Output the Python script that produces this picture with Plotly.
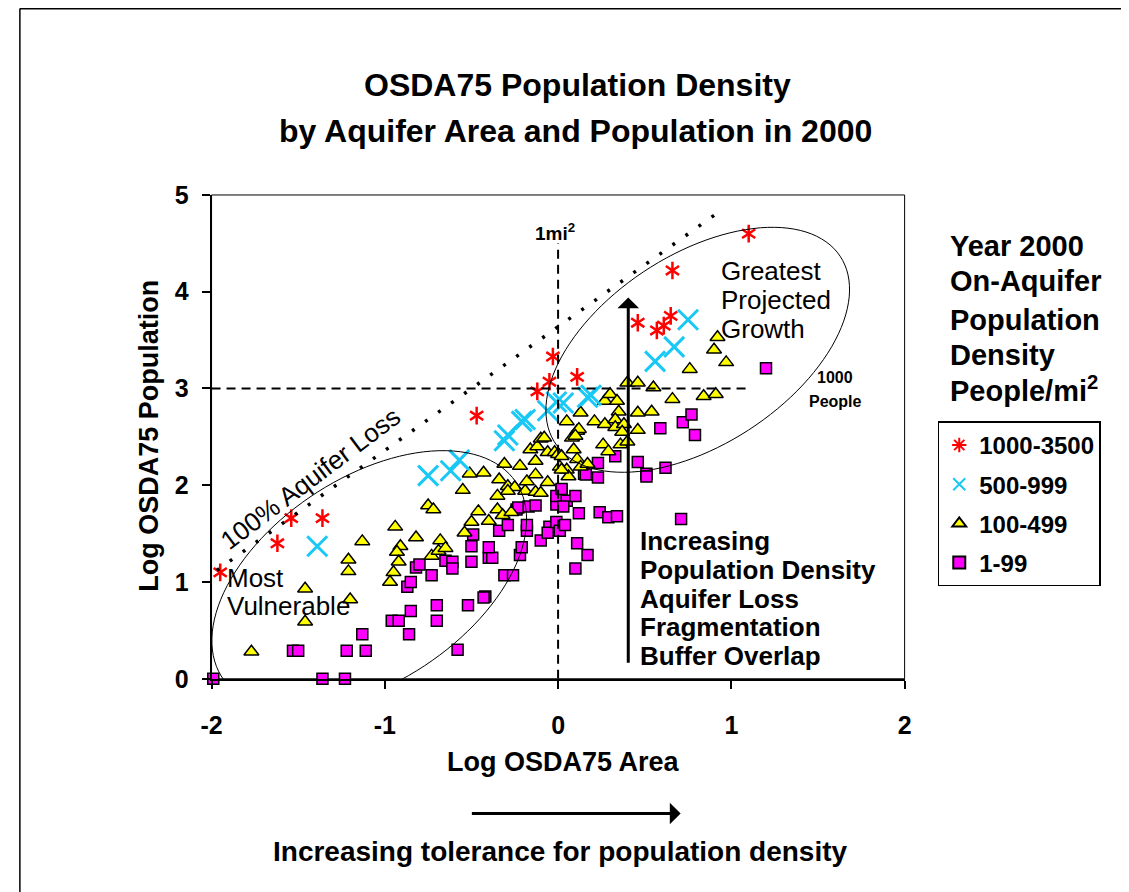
import numpy as np
import plotly.graph_objects as go

W, H = 1129, 892
FONT = 'Liberation Sans, Arial, sans-serif'

# plot area as measured on the reference picture (left, right, top, bottom)
PX0, PX1, PY0, PY1 = 214, 904, 195, 680

# the page is shown slightly shrunk and shifted; map picture pixels -> figure pixels
SX, OX = 0.9797, 22.3
SY, OY = 0.971, 21.6

# ---- data (log area, log population) ----
red_x = [-1.95, -1.62, -1.54, -1.36, -0.47, -0.12, -0.05, -0.03, 0.11, 0.46, 0.57, 0.61, 0.65, 0.66, 1.10]
red_y = [1.10, 1.40, 1.66, 1.66, 2.72, 2.97, 3.07, 3.33, 3.12, 3.68, 3.60, 3.65, 3.75, 4.22, 4.60]

cyan_x = [-1.39, -0.75, -0.62, -0.57, -0.31, -0.29, -0.21, -0.19, -0.06, -0.01, 0.03, 0.17, 0.19, 0.56, 0.67, 0.75]
cyan_y = [1.37, 2.10, 2.15, 2.26, 2.46, 2.52, 2.66, 2.68, 2.77, 2.86, 2.85, 2.91, 2.93, 3.28, 3.43, 3.71]

yellow_x = [-1.77, -1.46, -1.46, -1.21, -1.21, -1.20, -1.13, -0.94, -0.91, -0.93, -0.92, -0.95, -0.97, -0.82,
            -0.75, -0.72, -0.73, -0.68, -0.69, -0.65, -0.55, -0.51, -0.43, -0.34, -0.31, -0.22, -0.35, -0.29,
            -0.25, -0.46, -0.40, -0.50, -0.54, -0.35, -0.32, -0.27, -0.19, -0.18, -0.13, -0.13, -0.10, -0.06,
            -0.16, -0.13, -0.12, -0.10, -0.08, -0.06, -0.02, 0.00, 0.01, 0.05, 0.06, 0.05, 0.08, 0.11, 0.09,
            0.11, 0.13, 0.13, 0.17, 0.21, 0.27, 0.27, 0.26, 0.30, 0.34, 0.35, 0.33, 0.33, 0.38, 0.37, 0.36,
            0.40, 0.29, 0.40, 0.46, 0.55, 0.66, 0.76, 0.46, 0.54, 0.46, 0.12, 0.10, 0.02, 0.02, 0.92, 0.90,
            0.97, 0.84, 0.91, -0.29]
yellow_y = [0.28, 0.93, 0.59, 1.23, 1.11, 0.82, 1.42, 1.57, 1.37, 1.31, 1.21, 1.10, 1.00, 1.46,
            1.79, 1.75, 1.27, 1.43, 1.32, 1.35, 1.95, 2.12, 2.13, 2.06, 2.22, 2.20, 1.89, 1.99,
            1.98, 1.73, 1.63, 1.62, 1.51, 1.75, 1.69, 1.72, 1.94, 2.04, 2.11, 1.93, 1.92, 2.03,
            2.37, 2.25, 2.40, 2.48, 2.49, 2.34, 2.34, 2.32, 2.19, 2.16, 2.09, 2.66, 2.49, 2.56, 2.37,
            2.27, 2.75, 2.19, 2.22, 2.66, 2.87, 2.63, 2.42, 2.94, 2.87, 2.76, 2.68, 2.60, 2.63, 2.55, 2.42,
            2.45, 2.35, 3.06, 3.06, 3.01, 2.89, 3.20, 2.75, 2.76, 2.57, 2.58, 2.51, 2.30, 2.16, 3.53, 3.40,
            3.27, 2.92, 2.94, 1.94]

magenta_x = [-1.99, -1.53, -1.50, -1.36, -1.23, -1.22, -1.11, -1.13, -0.96, -0.92, -0.86, -0.85, -0.70, -0.70,
             -0.87, -0.85, -0.82, -0.80, -0.73, -0.65, -0.58, -0.52, -0.42, -0.43, -0.61, -0.61, -0.50, -0.40,
             -0.38, -0.40, -0.50, -0.49, -0.34, -0.29, -0.31, -0.26, -0.22, -0.21, -0.18, -0.18, -0.24, -0.23,
             -0.17, -0.13, -0.10, -0.05, -0.06, -0.01, 0.01, 0.04, -0.01, 0.02, -0.01, 0.05, 0.03, 0.10, 0.12,
             0.11, 0.17, 0.10, 0.24, 0.29, 0.34, 0.15, 0.23, 0.23, 0.33, 0.46, 0.59, 0.72, 0.77, 0.79, 0.51,
             0.51, 0.62, 0.16, 0.02, 1.20, 0.71]
magenta_y = [0.00, 0.29, 0.29, 0.00, 0.00, 0.29, 0.29, 0.46, 0.60, 0.60, 0.46, 0.70, 0.76, 0.60,
             0.95, 1.00, 1.15, 1.18, 1.07, 1.22, 0.30, 0.76, 0.85, 0.84, 1.21, 1.14, 1.21, 1.25,
             1.25, 1.36, 1.37, 1.49, 1.53, 1.59, 1.07, 1.07, 1.28, 1.36, 1.53, 1.59, 1.75, 1.77,
             1.78, 1.79, 1.43, 1.57, 1.51, 1.62, 1.53, 1.59, 1.80, 1.95, 1.89, 1.84, 1.78, 1.89, 1.71,
             1.40, 1.28, 1.14, 1.72, 1.67, 1.68, 2.12, 2.08, 2.23, 2.30, 2.24, 2.59, 2.65, 2.73, 2.52, 2.12,
             2.09, 2.18, 2.11, 1.96, 3.21, 1.65]

legend_names = ['1000-3500', '500-999', '100-499', '1-99']
x_ticks = [-2, -1, 0, 1, 2]
x_tick_text = ['-2', '-1', '0', '1', '2']
y_ticks = [0, 1, 2, 3, 4, 5]


def px(x):
    """picture x (pixels) -> paper fraction"""
    return (x - OX) / SX / W


def py(y):
    """picture y (pixels) -> paper fraction"""
    return 1 - (y - OY) / SY / H


def ellipse_path(cx, cy, a, b, deg):
    """Rotated ellipse (a, b in picture pixels) as an svg path in data coords."""
    sx = (PX1 - PX0) / 4.0
    sy = (PY1 - PY0) / 5.0
    t = np.linspace(0, 2 * np.pi, 120)
    th = np.radians(deg)
    dx = a * np.cos(t) * np.cos(th) - b * np.sin(t) * np.sin(th)
    dy = a * np.cos(t) * np.sin(th) + b * np.sin(t) * np.cos(th)
    pts = [f'{cx + u / sx:.4f},{cy + v / sy:.4f}' for u, v in zip(dx, dy)]
    return 'M' + ' L'.join(pts) + ' Z'


def txt(x, y, s, size, bold=True, anchor='center', angle=0):
    return dict(xref='paper', yref='paper', x=px(x), y=py(y), text=s, showarrow=False,
                xanchor=anchor, yanchor='middle', textangle=angle,
                font=dict(family=FONT, size=size, color='black', weight='bold' if bold else 'normal'))


fig = go.Figure()

# squares first, so the other series sit on top
fig.add_trace(go.Scatter(x=magenta_x, y=magenta_y, mode='markers', name=legend_names[3], legendrank=4,
                         legendgroup='d', cliponaxis=False,
                         marker=dict(symbol='square', size=11, color='#ff00ff', line=dict(color='black', width=1.5))))
fig.add_trace(go.Scatter(x=yellow_x, y=yellow_y, mode='markers', name=legend_names[2], legendrank=3,
                         legendgroup='c', cliponaxis=False,
                         marker=dict(symbol='triangle-up', size=13, color='#ffff00', line=dict(color='black', width=1.5))))
fig.add_trace(go.Scatter(x=cyan_x, y=cyan_y, mode='markers', name=legend_names[1], legendrank=2,
                         legendgroup='b', cliponaxis=False,
                         marker=dict(symbol='x-thin', size=20, color='#19c8f5', line=dict(color='#19c8f5', width=3))))
# red asterisks = two 3-arm marks overlaid
for sym in ['y-up', 'y-down']:
    fig.add_trace(go.Scatter(x=red_x, y=red_y, mode='markers', showlegend=False, cliponaxis=False,
                             marker=dict(symbol=sym, size=11, color='red', line=dict(color='red', width=2.5))))
fig.add_trace(go.Scatter(x=[None], y=[None], mode='markers', name=legend_names[0], legendrank=1,
                         legendgroup='a',
                         marker=dict(symbol='asterisk', size=12, color='red', line=dict(color='red', width=2))))

shapes = [
    # outer frame of the slide (top and left edges)
    dict(type='line', xref='paper', yref='paper', x0=0.0008, x1=1.05, y0=py(8), y1=py(8),
         line=dict(color='black', width=2)),
    dict(type='line', xref='paper', yref='paper', x0=0.0008, x1=0.0008, y0=-0.05, y1=py(8),
         line=dict(color='black', width=1.5)),
    # thin box round the plot area
    dict(type='rect', xref='paper', yref='paper', x0=px(PX0), x1=px(PX1), y0=py(PY1), y1=py(PY0),
         line=dict(color='black', width=1), layer='below'),
    # reference lines
    dict(type='line', xref='x', yref='y', x0=-2, x1=1.11, y0=3, y1=3,
         line=dict(color='black', width=2, dash='9px,6px')),
    dict(type='line', xref='x', yref='y', x0=0, x1=0, y0=0, y1=4.5,
         line=dict(color='black', width=2, dash='9px,6px')),
    dict(type='line', xref='x', yref='y', x0=-1.97, x1=0.94, y0=1.12, y1=4.84,
         line=dict(color='black', width=3.5, dash='3px,13px')),
    # ellipses
    dict(type='path', xref='x', yref='y', path=ellipse_path(-1.09, 1.02, 176, 102, 34),
         line=dict(color='black', width=1)),
    dict(type='path', xref='x', yref='y', path=ellipse_path(0.806, 3.40, 170, 95, 33.5),
         line=dict(color='black', width=1)),
]

annotations = [
    txt(578, 85, 'OSDA75 Population Density', 32),
    txt(576, 131, 'by Aquifer Area and Population in 2000', 32),
    txt(564, 763, 'Log OSDA75 Area', 27),
    txt(152, 436, 'Log OSDA75 Population', 27, angle=-90),
    txt(561, 853, 'Increasing tolerance for population density', 28),
    txt(556, 232, '1mi<sup>2</sup>', 19),
    txt(835, 378, '1000', 16),
    txt(835, 402, 'People', 16),
    txt(313, 479, '100% Aquifer Loss', 26, bold=False, angle=-37),
]
for i, line in enumerate(['Greatest', 'Projected', 'Growth']):
    annotations.append(txt(719, 271 + 29 * i, line, 26, bold=False, anchor='left'))
for i, line in enumerate(['Most', 'Vulnerable']):
    annotations.append(txt(227, 579 + 28 * i, line, 26, bold=False, anchor='left'))
for i, line in enumerate(['Increasing', 'Population Density', 'Aquifer Loss', 'Fragmentation', 'Buffer Overlap']):
    annotations.append(txt(639, 542 + 28.8 * i, line, 26, anchor='left'))
for y, line in zip([246, 281, 320, 355, 390],
                   ['Year 2000', 'On-Aquifer', 'Population', 'Density', 'People/mi<sup>2</sup>']):
    annotations.append(txt(947, y, line, 29, anchor='left'))

# arrows
annotations.append(dict(xref='x', yref='y', axref='x', ayref='y', x=0.405, y=3.94, ax=0.405, ay=0.15,
                        text='', showarrow=True, arrowhead=1, arrowsize=1.2, arrowwidth=3, arrowcolor='black'))
annotations.append(dict(xref='paper', yref='paper', x=px(681), y=py(815), ax=-(681 - 475) / SX, ay=0,
                        text='', showarrow=True, arrowhead=1, arrowsize=1.2, arrowwidth=3, arrowcolor='black'))

axis_font = dict(family=FONT, size=25, color='black', weight='bold')
fig.update_layout(
    width=W, height=H,
    margin=dict(l=0, r=0, t=0, b=0),
    plot_bgcolor='white', paper_bgcolor='white',
    shapes=shapes, annotations=annotations,
    xaxis=dict(domain=[px(PX0), px(PX1)], range=[-2, 2], tickvals=x_ticks, ticktext=x_tick_text,
               ticks='outside', ticklen=8,
               tickwidth=1.5, tickcolor='black', showline=True, linecolor='black', linewidth=2,
               showgrid=False, zeroline=False, tickfont=axis_font, ticklabelstandoff=15),
    yaxis=dict(domain=[py(PY1), py(PY0)], range=[0, 5], tickvals=y_ticks, ticks='outside', ticklen=8,
               tickwidth=1.5, tickcolor='black', showline=True, linecolor='black', linewidth=2,
               showgrid=False, zeroline=False, tickfont=axis_font, ticklabelstandoff=8),
    legend=dict(x=px(937), y=py(422), xanchor='left', yanchor='top', bgcolor='white',
                bordercolor='black', borderwidth=1.5, traceorder='grouped', tracegroupgap=5,
                itemsizing='constant',
                font=dict(family=FONT, size=24, color='black', weight='bold')),
    showlegend=True,
)

fig.write_html("out.html")
